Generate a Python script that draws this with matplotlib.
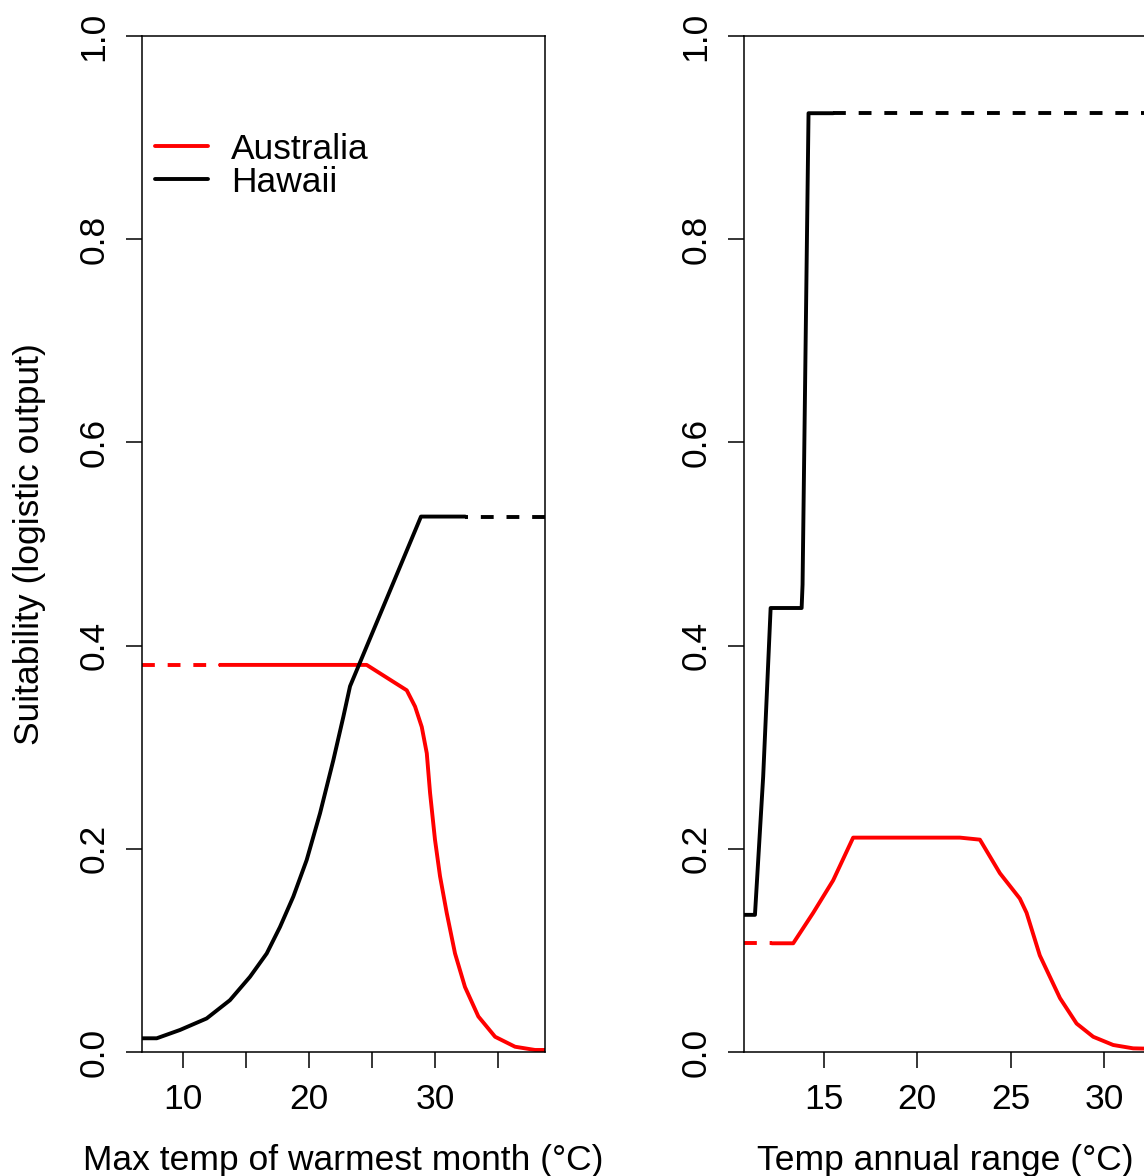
import matplotlib
matplotlib.use('Agg')
import matplotlib.pyplot as plt

plt.rcParams['font.family'] = ['Liberation Sans', 'DejaVu Sans']
plt.rcParams['lines.solid_joinstyle'] = 'round'
plt.rcParams['lines.solid_capstyle'] = 'round'

# left panel: max temp of warmest month
xlim_left = [6.75, 38.73]
haw_left_x = [6.75, 7.92, 9.77, 11.88, 13.73, 15.32, 16.65, 17.7, 18.76, 19.82, 20.88,
              21.93, 22.73, 23.26, 28.89, 32.4]
haw_left_y = [0.0135, 0.0135, 0.0217, 0.033, 0.051, 0.074, 0.097, 0.123, 0.153, 0.189, 0.235,
              0.287, 0.330, 0.360, 0.527, 0.527]
haw_left_dash_x = [38.73, 32.4]
haw_left_dash_y = [0.527, 0.527]

aus_left_x = [12.94, 24.58, 27.76, 28.42, 28.95, 29.35, 29.61, 30.0, 30.4, 30.93, 31.59,
              32.38, 33.44, 34.77, 36.35, 37.94, 38.73]
aus_left_y = [0.381, 0.381, 0.356, 0.340, 0.320, 0.294, 0.255, 0.209, 0.173, 0.137, 0.097,
              0.064, 0.035, 0.015, 0.0052, 0.002, 0.002]
aus_left_dash_x = [6.75, 12.94]
aus_left_dash_y = [0.381, 0.381]

# right panel: temp annual range
xlim_right = [10.71, 32.3]
haw_right_x = [10.71, 11.3, 11.74, 12.14, 13.80, 13.85, 14.17, 15.5]
haw_right_y = [0.135, 0.135, 0.271, 0.437, 0.437, 0.46, 0.924, 0.924]
haw_right_dash_x = [15.5, 32.3]
haw_right_dash_y = [0.924, 0.924]

aus_right_x = [12.2, 13.35, 14.42, 15.49, 16.56, 22.28, 23.35, 24.42, 25.49, 25.85, 26.56,
               27.1, 27.64, 28.53, 29.42, 30.49, 31.56, 32.3]
aus_right_y = [0.107, 0.107, 0.137, 0.169, 0.211, 0.211, 0.209, 0.176, 0.151, 0.137, 0.095,
               0.074, 0.053, 0.028, 0.015, 0.0069, 0.0036, 0.0033]
aus_right_dash_x = [10.71, 12.2]
aus_right_dash_y = [0.107, 0.107]

xticks_left = [10, 15, 20, 25, 30, 35]
xticklabels_left = ['10', '', '20', '', '30', '']
xticks_right = [15, 20, 25, 30]
yticks = [0.0, 0.2, 0.4, 0.6, 0.8, 1.0]

FS = 25.5
LW = 2.8
dash = (0, (3.3, 3.3))

fig = plt.figure(figsize=(11.44, 11.76), dpi=100)
ax1 = fig.add_axes([0.1241, 0.10544, 0.3523, 0.86395])
ax2 = fig.add_axes([0.6503, 0.10544, 0.3523, 0.86395])

l_aus, = ax1.plot(aus_left_x, aus_left_y, color='red', lw=LW, label='Australia')
ax1.plot(aus_left_dash_x, aus_left_dash_y, color='red', lw=LW, linestyle=dash)
l_haw, = ax1.plot(haw_left_x, haw_left_y, color='black', lw=LW, label='Hawaii')
ax1.plot(haw_left_dash_x, haw_left_dash_y, color='black', lw=LW, linestyle=dash)

ax2.plot(aus_right_x, aus_right_y, color='red', lw=LW)
ax2.plot(aus_right_dash_x, aus_right_dash_y, color='red', lw=LW, linestyle=dash)
ax2.plot(haw_right_x, haw_right_y, color='black', lw=LW)
ax2.plot(haw_right_dash_x, haw_right_dash_y, color='black', lw=LW, linestyle=dash)

for ax, xl in [(ax1, xlim_left), (ax2, xlim_right)]:
    ax.set_xlim(xl)
    ax.set_ylim(0, 1)
    ax.set_yticks(yticks)
    ax.set_yticklabels(['%.1f' % v for v in yticks])
    for s in ax.spines.values():
        s.set_linewidth(1.1)
    ax.tick_params(axis='both', direction='out', length=11.5, width=1.1, labelsize=FS)
    ax.tick_params(axis='y', labelrotation=90, pad=11)
    ax.tick_params(axis='x', pad=11)
    for lab in ax.get_yticklabels():
        lab.set_va('center')

ax1.set_xticks(xticks_left)
ax1.set_xticklabels(xticklabels_left)
ax2.set_xticks(xticks_right)

ax1.set_xlabel('Max temp of warmest month (°C)', fontsize=FS, labelpad=20)
ax2.set_xlabel('Temp annual range (°C)', fontsize=FS, labelpad=20)
ax1.set_ylabel('Suitability (logistic output)', fontsize=FS, labelpad=23)

ax1.legend(handles=[l_aus, l_haw], loc='upper left', bbox_to_anchor=(0.032, 0.905),
           frameon=False, fontsize=FS, handlelength=1.5, handletextpad=0.65,
           labelspacing=0.0, borderpad=0, borderaxespad=0)

fig.savefig('out.png', dpi=100)
